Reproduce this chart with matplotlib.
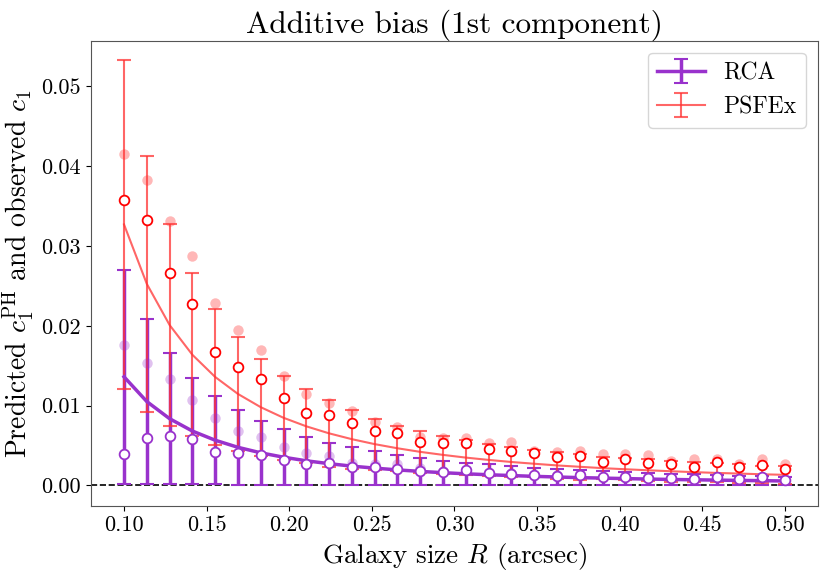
import matplotlib
matplotlib.use("Agg")
import matplotlib.pyplot as plt
import numpy as np

plt.rcParams['font.family'] = 'serif'
plt.rcParams['font.serif'] = ['cmr10']
plt.rcParams['mathtext.fontset'] = 'cm'
plt.rcParams['axes.formatter.use_mathtext'] = True
plt.rcParams['axes.unicode_minus'] = False

R = np.linspace(0.1, 0.5, 30)

rca_pred = [0.01360, 0.01050, 0.00835, 0.00680, 0.00565, 0.00476, 0.00407, 0.00352, 0.00307, 0.00271,
            0.00240, 0.00215, 0.00193, 0.00174, 0.00158, 0.00144, 0.00132, 0.00122, 0.00112, 0.00104,
            0.00096, 0.00090, 0.00084, 0.00078, 0.00073, 0.00069, 0.00065, 0.00061, 0.00058, 0.00054]
rca_err = [0.0134, 0.0103, 0.0082, 0.0067, 0.00555, 0.0047, 0.0040, 0.0035, 0.0030, 0.00264,
           0.00237, 0.0021, 0.0019, 0.0017, 0.0015, 0.0014, 0.0013, 0.0012, 0.0011, 0.00102,
           0.00095, 0.00088, 0.00082, 0.00077, 0.00072, 0.00068, 0.00064, 0.0006, 0.00057, 0.00053]
rca_open = [0.00393, 0.0059, 0.00622, 0.00577, 0.00414, 0.0040, 0.0038, 0.00317, 0.00263, 0.00276,
            0.00233, 0.00226, 0.0020, 0.0018, 0.0017, 0.00192, 0.0015, 0.00142, 0.00125, 0.00117,
            0.00133, 0.0010, 0.00108, 0.00092, 0.00088, 0.00083, 0.0010, 0.00083, 0.0010, 0.00066]
rca_obs = [0.0176, 0.0153, 0.0133, 0.0107, 0.00848, 0.00681, 0.0061, 0.00477, 0.0040, 0.00368,
           0.00276, 0.00267, 0.00263, 0.0022, 0.00183, 0.0019, 0.00158, 0.0015, 0.00125, 0.00125,
           0.00142, 0.0010, 0.00117, 0.0010, 0.00092, 0.0010, 0.00108, 0.00092, 0.00108, 0.00075]

psf_pred = [0.0327, 0.02525, 0.02009, 0.01636, 0.01358, 0.01145, 0.00979, 0.00846, 0.00739, 0.00651,
            0.00578, 0.00516, 0.00464, 0.00419, 0.00381, 0.00347, 0.00318, 0.00292, 0.00270, 0.00249,
            0.00232, 0.00215, 0.00201, 0.00188, 0.00176, 0.00165, 0.00155, 0.00147, 0.00138, 0.00131]
psf_err = [0.0206, 0.0160, 0.0127, 0.0102, 0.0085, 0.0072, 0.0061, 0.00525, 0.00465, 0.0042,
           0.0037, 0.0032, 0.0028, 0.0026, 0.0024, 0.0022, 0.0020, 0.0019, 0.0017, 0.00165,
           0.0016, 0.0014, 0.0014, 0.0014, 0.0013, 0.0013, 0.0012, 0.0012, 0.0011, 0.0011]
psf_open = [0.03576, 0.0332, 0.0266, 0.0227, 0.01676, 0.01488, 0.01333, 0.0110, 0.00903, 0.00878,
            0.00781, 0.00685, 0.00652, 0.0054, 0.00525, 0.00535, 0.00459, 0.00434, 0.0040, 0.00359,
            0.00371, 0.00296, 0.00326, 0.00276, 0.00263, 0.00233, 0.00288, 0.00233, 0.00255, 0.0020]
psf_obs = [0.04156, 0.0383, 0.03315, 0.02876, 0.02286, 0.01948, 0.01693, 0.01371, 0.01141, 0.01029,
           0.00932, 0.00798, 0.00728, 0.0061, 0.0059, 0.00597, 0.00535, 0.00547, 0.0043, 0.00414,
           0.00434, 0.00389, 0.00393, 0.0038, 0.00305, 0.0033, 0.00326, 0.00263, 0.00326, 0.00263]

purple = '#9932CC'
red = '#FF3333'

fig = plt.figure(figsize=(8.3, 5.77), dpi=100)
ax = fig.add_axes([0.1096, 0.123, 0.8759, 0.806])

ax.axhline(0, color='black', ls='--', lw=1.2, zorder=1)

ax.errorbar(R, rca_pred, yerr=rca_err, fmt='-', color=purple, lw=2.5, elinewidth=2.5,
            capsize=5, capthick=1.5, label='RCA')
ax.errorbar(R, psf_pred, yerr=psf_err, fmt='-', color=red, alpha=0.75, lw=1.5, elinewidth=1.5,
            capsize=5, capthick=1.5, label='PSFEx')

ax.plot(R, rca_obs, 'o', color=purple, alpha=0.3, ms=7.5, mew=0, zorder=3)
ax.plot(R, psf_obs, 'o', color=red, alpha=0.35, ms=7.5, mew=0, zorder=3)
ax.plot(R, rca_open, 'o', mfc='white', mec=purple, ms=7, mew=1.3, ls='none', zorder=4)
ax.plot(R, psf_open, 'o', mfc='white', mec='red', ms=7, mew=1.3, ls='none', zorder=4)

ax.set_xlim(0.08, 0.52)
ax.set_ylim(-0.0026, 0.0557)
ax.set_xticks([0.10, 0.15, 0.20, 0.25, 0.30, 0.35, 0.40, 0.45, 0.50])
ax.set_xticklabels(['0.10', '0.15', '0.20', '0.25', '0.30', '0.35', '0.40', '0.45', '0.50'])
ax.set_yticks([0.0, 0.01, 0.02, 0.03, 0.04, 0.05])
ax.set_yticklabels(['0.00', '0.01', '0.02', '0.03', '0.04', '0.05'])
ax.tick_params(labelsize=16)
for s in ax.spines.values():
    s.set_color('#555555')

ax.set_xlabel(r'Galaxy size $R$ (arcsec)', fontsize=19.5)
ax.set_ylabel(r'Predicted $c_1^{\rm PH}$ and observed $c_1$', fontsize=20)
ax.set_title('Additive bias (1st component)', fontsize=22.5)
ax.legend(loc='upper right', fontsize=17)

fig.savefig('out.png', dpi=100)
